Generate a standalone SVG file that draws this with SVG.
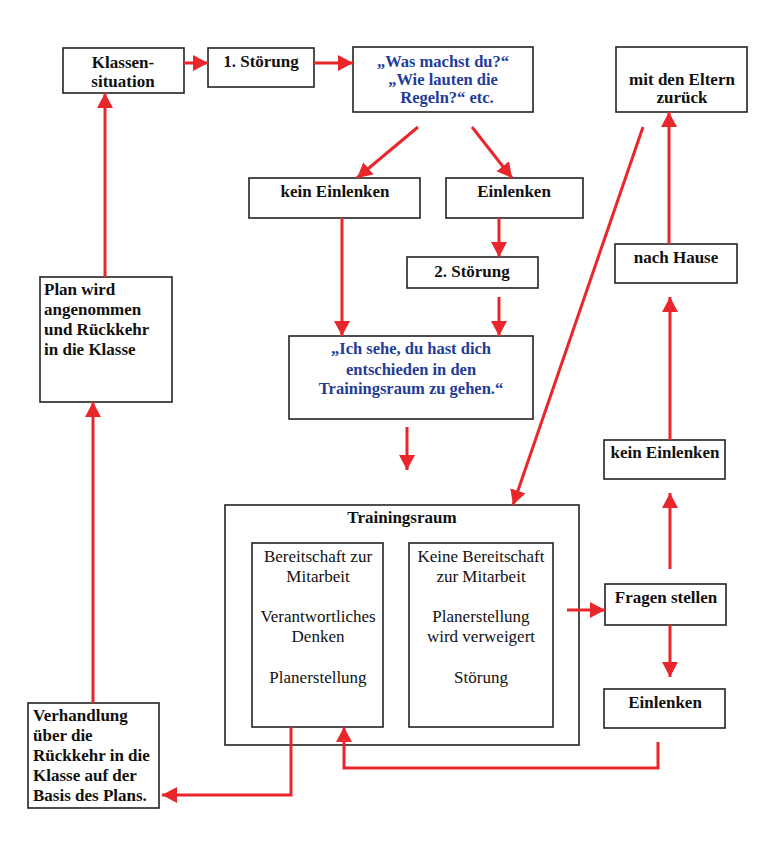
<svg xmlns="http://www.w3.org/2000/svg" width="768" height="850" viewBox="0 0 768 850">
<style>
.box{fill:#fff;stroke:#222;stroke-width:1.6}
.t{font-family:"Liberation Serif","Times New Roman",serif;font-size:17px;font-weight:bold;fill:#111;text-anchor:middle}
.tl{font-family:"Liberation Serif","Times New Roman",serif;font-size:17px;font-weight:bold;fill:#111}
.tb{font-family:"Liberation Serif","Times New Roman",serif;font-size:16.5px;font-weight:bold;fill:#1f3c99;text-anchor:middle}
.tr{font-family:"Liberation Serif","Times New Roman",serif;font-size:17px;fill:#111;text-anchor:middle}
.c{fill:none;stroke:#e8262b;stroke-width:3;marker-end:url(#ah)}
</style>
<defs>
<marker id="ah" markerUnits="userSpaceOnUse" markerWidth="17" markerHeight="17" refX="15" refY="8" orient="auto">
<path d="M0,0 L15,8 L0,16 z" fill="#e8262b"/>
</marker>
</defs>
<rect width="768" height="850" fill="#fff"/>
<g id="klassensituation">
<rect class="box" x="63" y="48" width="121" height="45"/>
<text class="t" x="123" y="68">Klassen-</text>
<text class="t" x="123" y="87">situation</text>
</g>
<g id="stoerung1">
<rect class="box" x="208" y="48" width="106" height="39"/>
<text class="t" x="261" y="67">1. Störung</text>
</g>
<g id="frage">
<rect class="box" x="353" y="47" width="180" height="65"/>
<text class="tb" x="443" y="67">„Was machst du?“</text>
<text class="tb" x="443" y="85">„Wie lauten die</text>
<text class="tb" x="447" y="103">Regeln?“ etc.</text>
</g>
<g id="eltern">
<rect class="box" x="616" y="47" width="131" height="65"/>
<text class="t" x="682" y="85">mit den Eltern</text>
<text class="t" x="682" y="103">zurück</text>
</g>
<g id="keinEinlenken1">
<rect class="box" x="249" y="178" width="171" height="40"/>
<text class="t" x="335" y="197">kein Einlenken</text>
</g>
<g id="einlenken1">
<rect class="box" x="446" y="178" width="137" height="40"/>
<text class="t" x="514" y="197">Einlenken</text>
</g>
<g id="stoerung2">
<rect class="box" x="407" y="257" width="131" height="31"/>
<text class="t" x="472" y="277">2. Störung</text>
</g>
<g id="entschieden">
<rect class="box" x="289" y="336" width="244" height="83"/>
<text class="tb" x="411" y="354">„Ich sehe, du hast dich</text>
<text class="tb" x="411" y="375">entschieden in den</text>
<text class="tb" x="411" y="394">Trainingsraum zu gehen.“</text>
</g>
<g id="plan">
<rect class="box" x="40" y="277" width="132" height="125"/>
<text class="tl" x="44" y="295">Plan wird</text>
<text class="tl" x="44" y="315">angenommen</text>
<text class="tl" x="44" y="335">und Rückkehr</text>
<text class="tl" x="44" y="355">in die Klasse</text>
</g>
<g id="trainingsraum">
<rect class="box" x="225" y="505" width="354" height="240"/>
<text class="t" x="402" y="523">Trainingsraum</text>
<rect class="box" x="252" y="543" width="131" height="184"/>
<text class="tr" x="318" y="562">Bereitschaft zur</text>
<text class="tr" x="318" y="582">Mitarbeit</text>
<text class="tr" x="318" y="622">Verantwortliches</text>
<text class="tr" x="318" y="642">Denken</text>
<text class="tr" x="318" y="683">Planerstellung</text>
<rect class="box" x="409" y="543" width="144" height="184"/>
<text class="tr" x="481" y="562">Keine Bereitschaft</text>
<text class="tr" x="481" y="582">zur Mitarbeit</text>
<text class="tr" x="481" y="622">Planerstellung</text>
<text class="tr" x="481" y="642">wird verweigert</text>
<text class="tr" x="481" y="683">Störung</text>
</g>
<g id="nachHause">
<rect class="box" x="615" y="244" width="122" height="39"/>
<text class="t" x="676" y="263">nach Hause</text>
</g>
<g id="keinEinlenken2">
<rect class="box" x="604" y="440" width="121" height="39"/>
<text class="t" x="665" y="458">kein Einlenken</text>
</g>
<g id="fragenStellen">
<rect class="box" x="605" y="584" width="121" height="41"/>
<text class="t" x="666" y="603">Fragen stellen</text>
</g>
<g id="einlenken2">
<rect class="box" x="604" y="689" width="121" height="39"/>
<text class="t" x="665" y="708">Einlenken</text>
</g>
<g id="verhandlung">
<rect class="box" x="28" y="703" width="131" height="105"/>
<text class="tl" x="33" y="721">Verhandlung</text>
<text class="tl" x="33" y="741">über die</text>
<text class="tl" x="33" y="761">Rückkehr in die</text>
<text class="tl" x="33" y="781">Klasse auf der</text>
<text class="tl" x="33" y="801">Basis des Plans.</text>
</g>
<g id="connectors">
<path class="c" d="M184,63 L208,63"/>
<path class="c" d="M314,63 L353,63"/>
<path class="c" d="M418,127 L357,178"/>
<path class="c" d="M472,127 L512,178"/>
<path class="c" d="M499,218 L499,257"/>
<path class="c" d="M342,218 L342,336"/>
<path class="c" d="M499,297 L499,336"/>
<path class="c" d="M407,427 L407,470"/>
<path class="c" d="M643,127 L513,505"/>
<path class="c" d="M567,610 L605,610"/>
<path class="c" d="M670,569 L670,493"/>
<path class="c" d="M670,625 L670,677"/>
<path class="c" d="M670,440 L670,297"/>
<path class="c" d="M669,244 L669,112"/>
<path class="c" d="M658,742 L658,768 L344,768 L344,727"/>
<path class="c" d="M291,727 L291,795 L162,795"/>
<path class="c" d="M93,703 L93,402"/>
<path class="c" d="M105,277 L105,93"/>
</g>
</svg>
